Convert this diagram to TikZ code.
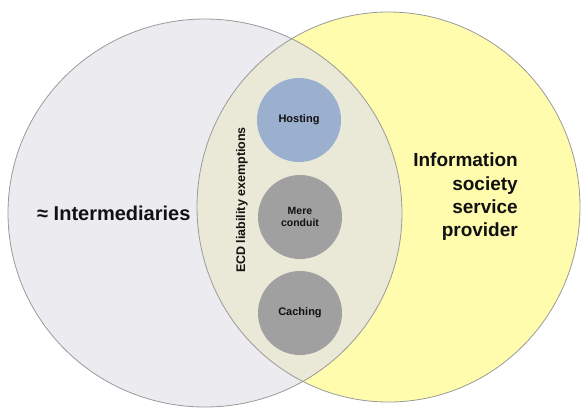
\documentclass[tikz,border=0pt]{standalone}
\usepackage{fontspec}
\setmainfont{Liberation Sans}
\definecolor{leftfill}{HTML}{ECEBEF}
\definecolor{rightfill}{HTML}{FFFCAE}
\definecolor{midfill}{HTML}{EAE9D8}
\definecolor{rimcol}{HTML}{9A9A9A}
\definecolor{hostfill}{HTML}{9BAFCE}
\definecolor{grayfill}{HTML}{A0A0A0}
\definecolor{inkcol}{HTML}{111111}
\begin{document}
\begin{tikzpicture}[x=1pt,y=-1pt,
  rim/.style={draw=rimcol,line width=0.8pt},
  exempt/.style={circle,minimum size=84pt,inner sep=0pt,text=inkcol,font=\bfseries\fontsize{10.5}{12.5}\selectfont,align=center},
  biglabel/.style={text=inkcol,font=\bfseries\fontsize{19}{23.3}\selectfont,inner sep=0pt}]
\useasboundingbox (0,0) rectangle (581,408);
% ellipses
\fill[leftfill] (205,213) ellipse [x radius=197, y radius=194];
\fill[rightfill] (388.5,207) ellipse [x radius=191.5, y radius=195];
\begin{scope}
  \clip (388.5,207) ellipse [x radius=191.5, y radius=195];
  \fill[midfill] (205,213) ellipse [x radius=197, y radius=194];
\end{scope}
\draw[rim] (205,213) ellipse [x radius=197, y radius=194];
\draw[rim] (388.5,207) ellipse [x radius=191.5, y radius=195];
% exemption circles
\node[exempt,fill=hostfill,font=\bfseries\fontsize{11}{13}\selectfont] (hosting) at (299,120) {Hosting};
\node[exempt,fill=grayfill] (mere) at (300,217) {Mere\\conduit};
\node[exempt,fill=grayfill,font=\bfseries\fontsize{11}{13}\selectfont] (caching) at (300,313) {Caching};
% labels
\node[biglabel,rotate=90,font=\bfseries\fontsize{12.5}{15}\selectfont] (ecd) at (242,200) {ECD liability exemptions};
\node[biglabel,anchor=west,font=\bfseries\fontsize{20}{24}\selectfont] (inter) at (37,213) {≈ Intermediaries};
\node[biglabel,align=right,anchor=east] (isp) at (518,197) {Information\\society\\service\\provider};
\end{tikzpicture}
\end{document}
